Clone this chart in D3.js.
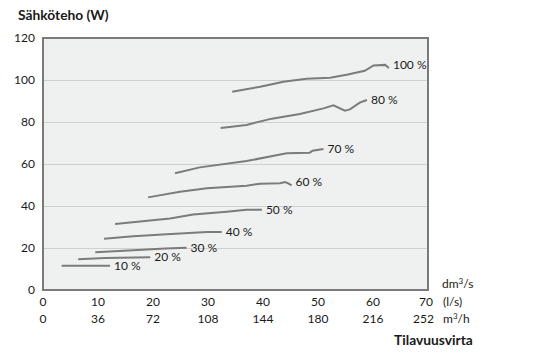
<!DOCTYPE html>
<html>
<head>
<meta charset="utf-8">
<script src="https://cdn.jsdelivr.net/npm/d3@7"></script>
<style>
  body { margin: 0; background: #fff; }
  svg text { font-family: Lato, "Liberation Sans", sans-serif; fill: #1a1a1a; }
  .tick-label { font-size: 12px; }
  .title { font-size: 13.8px; font-weight: bold; }
  .curve { fill: none; stroke: #7b7b7b; stroke-width: 2; }
  .grid { stroke: #cfd1d1; stroke-width: 1; }
</style>
</head>
<body>
<div id="chart"></div>
<script>
const width = 533;
const height = 363;

// fan speed settings and their curves: [flow l/s, power W]
const speeds = ["10 %", "20 %", "30 %", "40 %", "50 %", "60 %", "70 %", "80 %", "100 %"];
const curve10 = [[3.4, 11.6], [12.2, 11.6]];
const curve20 = [[6.4, 14.6], [11.3, 15.2], [19.5, 15.6]];
const curve30 = [[9.5, 18.0], [17.3, 19.0], [22.2, 19.8], [26.1, 20.1]];
const curve40 = [[11.1, 24.4], [16.4, 25.6], [22.5, 26.5], [29.8, 27.6], [32.5, 27.6]];
const curve50 = [[13.1, 31.4], [23.1, 34.1], [27.3, 36.0], [33.4, 37.3], [37.0, 38.2], [39.8, 38.2]];
const curve60 = [[19.1, 44.1], [24.9, 46.8], [29.8, 48.4], [37.0, 49.7], [39.5, 50.6], [43.1, 50.8], [44.0, 51.4], [44.6, 50.8], [45.2, 49.8]];
const curve70 = [[24.0, 55.6], [28.5, 58.4], [37.0, 61.4], [44.3, 65.1], [48.5, 65.4], [49.0, 66.3], [51.0, 67.1]];
const curve80 = [[32.3, 77.1], [37.0, 78.6], [41.6, 81.6], [46.7, 83.8], [51.0, 86.5], [52.8, 87.9], [54.9, 85.4], [55.8, 86.0], [57.6, 89.2], [58.9, 90.5]];
const curve100 = [[34.4, 94.4], [39.5, 96.8], [43.7, 99.2], [47.9, 100.6], [52.2, 101.1], [55.2, 102.5], [58.5, 104.4], [60.1, 106.9], [62.2, 107.2], [62.9, 105.7]];
const curves = [curve10, curve20, curve30, curve40, curve50, curve60, curve70, curve80, curve100];

const yTicks = [0, 20, 40, 60, 80, 100, 120];
const xTicks = [0, 10, 20, 30, 40, 50, 60, 70];
const xTicksM3h = ["0", "36", "72", "108", "144", "180", "216", "252"];

const margin = { top: 38, right: 105, bottom: 73, left: 43 };

const svg = d3.select("#chart").append("svg")
   .attr("width", width)
   .attr("height", height);

const x = d3.scaleLinear()
   .domain([0, 70])
   .range([margin.left, width - margin.right]);

const y = d3.scaleLinear()
   .domain([0, 120])
   .range([height - margin.bottom, margin.top]);

// plot background
svg.append("rect")
   .attr("x", x(0))
   .attr("y", y(120))
   .attr("width", x(70) - x(0))
   .attr("height", y(0) - y(120))
   .style("fill", "#eff1f0");

// grid
svg.selectAll("line.grid")
   .data(yTicks.filter(d => d > 0 && d < 120))
   .enter()
   .append("line")
   .attr("class", "grid")
   .attr("x1", x(0))
   .attr("x2", x(70))
   .attr("y1", d => y(d) + 0.5)
   .attr("y2", d => y(d) + 0.5);

// frame
svg.append("rect")
   .attr("x", x(0))
   .attr("y", y(120))
   .attr("width", x(70) - x(0))
   .attr("height", y(0) - y(120))
   .style("fill", "none")
   .style("stroke", "#7a7a7a")
   .style("stroke-width", 2);

// y tick labels
svg.selectAll("text.ylab")
   .data(yTicks)
   .enter()
   .append("text")
   .attr("class", "tick-label")
   .attr("x", 35)
   .attr("y", d => y(d) + 4)
   .style("text-anchor", "end")
   .text(d => d);

// x tick labels, two rows
svg.selectAll("text.xlab")
   .data(xTicks)
   .enter()
   .append("text")
   .attr("class", "tick-label")
   .attr("x", (d, i) => i == xTicks.length - 1 ? x(d) + 5 : x(d))
   .attr("y", 306)
   .style("text-anchor", (d, i) => i == xTicks.length - 1 ? "end" : "middle")
   .text(d => d);

svg.selectAll("text.xlab2")
   .data(xTicksM3h)
   .enter()
   .append("text")
   .attr("class", "tick-label")
   .attr("x", (d, i) => i == xTicks.length - 1 ? x(xTicks[i]) + 6 : x(xTicks[i]))
   .attr("y", 323)
   .style("text-anchor", (d, i) => i == xTicks.length - 1 ? "end" : "middle")
   .text(d => d);

// units
svg.append("text").attr("class", "tick-label").attr("x", 442).attr("y", 288).html("dm<tspan dy='-4' font-size='8'>3</tspan><tspan dy='4'>/s</tspan>");
svg.append("text").attr("class", "tick-label").attr("x", 443).attr("y", 306).text("(l/s)");
svg.append("text").attr("class", "tick-label").attr("x", 443).attr("y", 323).html("m<tspan dy='-4' font-size='8'>3</tspan><tspan dy='4'>/h</tspan>");

// titles
svg.append("text")
   .attr("class", "title")
   .attr("x", 18)
   .attr("y", 20)
   .text("Sähköteho (W)");
svg.append("text")
   .attr("class", "title")
   .attr("x", 394)
   .attr("y", 345)
   .text("Tilavuusvirta");

// curves
const line = d3.line()
   .x(d => x(d[0]))
   .y(d => y(d[1]));

svg.selectAll("path.curve")
   .data(curves)
   .enter()
   .append("path")
   .attr("class", "curve")
   .attr("d", line);

svg.selectAll("text.speed")
   .data(curves)
   .enter()
   .append("text")
   .attr("class", "tick-label")
   .attr("x", d => x(d[d.length - 1][0]) + 4)
   .attr("y", d => y(d3.max(d.slice(-3), p => p[1])) + 4)
   .text((d, i) => speeds[i]);
</script>
</body>
</html>
